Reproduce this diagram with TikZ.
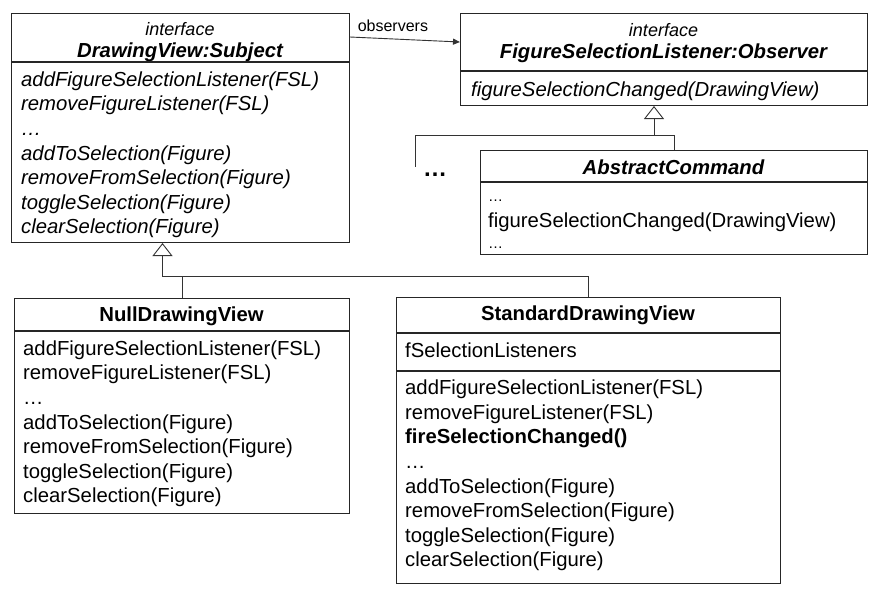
\documentclass[tikz,border=0pt]{standalone}
\usepackage{fontspec}
\setmainfont{Liberation Sans}
\usetikzlibrary{arrows.meta,calc,positioning}
\newcommand\opsfont{\fontsize{20.3}{24.6}\selectfont}
\newcommand\opsstrut{\rule{0pt}{15pt}}

\begin{document}
\begin{tikzpicture}[x=1pt, y=-1pt,
  box/.style={draw=black!85, line width=1pt, inner sep=0pt, anchor=north west},
  divider/.style={draw=black!85, line width=1.3pt},
  title/.style={font=\opsfont\bfseries, anchor=base, inner sep=0pt},
  ititle/.style={title, font=\opsfont\bfseries\itshape},
  stereo/.style={font=\fontsize{18}{20}\selectfont\itshape, anchor=base, inner sep=0pt},
  ops/.style={font=\opsfont, align=left, anchor=north west, inner sep=0pt},
  iops/.style={ops, font=\opsfont\itshape},
  link/.style={draw=black!80, line width=0.9pt},
  inherit/.style={link, -{Triangle[open, length=13pt, width=20pt]}}]

\useasboundingbox (0,0) rectangle (882,598);

% Subject interface
\node[box, minimum width=338pt, minimum height=229pt] (dv) at (11,13) {};
\node[stereo] (dvst) at (180,35) {interface};
\node[ititle] (dvname) at (180,57.5) {DrawingView:Subject};
\draw[divider] (dv.west |- 0,62) -- (dv.east |- 0,62);
\node[iops] (dvops) at (21,71) {\opsstrut addFigureSelectionListener(FSL)\\
  removeFigureListener(FSL)\\ \dots\\ addToSelection(Figure)\\
  removeFromSelection(Figure)\\ toggleSelection(Figure)\\ clearSelection(Figure)};

% Observer interface
\node[box, minimum width=407pt, minimum height=92pt] (fsl) at (460,13) {};
\node[stereo] (fslst) at (663.5,36) {interface};
\node[ititle] (fslname) at (663.5,58.5) {FigureSelectionListener:Observer};
\draw[divider] (fsl.west |- 0,71) -- (fsl.east |- 0,71);
\node[iops] (fslops) at (471,81.5) {\opsstrut figureSelectionChanged(DrawingView)};

% Concrete observer
\node[box, minimum width=387pt, minimum height=104pt] (ac) at (480,150) {};
\node[ititle] (acname) at (673.5,174) {AbstractCommand};
\draw[divider] (ac.west |- 0,182) -- (ac.east |- 0,182);
\node[ops] (acops) at (488,186) {\opsstrut{\fontsize{15}{16}\selectfont\dots}\\[1.9pt]
  figureSelectionChanged(DrawingView)\\[-4pt]{\fontsize{15}{16}\selectfont\dots}};
\node[font=\fontsize{24}{26}\selectfont\bfseries, anchor=base, inner sep=0pt] (more) at (435,176) {\dots};

% Concrete subjects
\node[box, minimum width=335pt, minimum height=215pt] (ndv) at (14,298) {};
\node[title] (ndvname) at (181.5,321) {NullDrawingView};
\draw[divider] (ndv.west |- 0,331) -- (ndv.east |- 0,331);
\node[ops] (ndvops) at (23,340) {\opsstrut addFigureSelectionListener(FSL)\\
  removeFigureListener(FSL)\\ \dots\\ addToSelection(Figure)\\
  removeFromSelection(Figure)\\ toggleSelection(Figure)\\ clearSelection(Figure)};

\node[box, minimum width=384pt, minimum height=286pt] (sdv) at (396,297) {};
\node[title] (sdvname) at (588,320) {StandardDrawingView};
\draw[divider] (sdv.west |- 0,333) -- (sdv.east |- 0,333);
\node[ops, anchor=base west] (sdvattr) at (405,357) {fSelectionListeners};
\draw[divider] (sdv.west |- 0,371) -- (sdv.east |- 0,371);
\node[ops] (sdvops) at (405,379.5) {\opsstrut addFigureSelectionListener(FSL)\\
  removeFigureListener(FSL)\\ \textbf{fireSelectionChanged()}\\ \dots\\
  addToSelection(Figure)\\ removeFromSelection(Figure)\\
  toggleSelection(Figure)\\ clearSelection(Figure)};

% Association
\draw[link, -{Triangle[length=7pt, width=6pt]}] ([yshift=-24pt]dv.north east)
  -- node[pos=0.39, above=6.5pt, font=\fontsize{16}{18}\selectfont, inner sep=0pt] (obslabel) {observers}
  ([yshift=-29pt]fsl.north west);

% Realisations
\coordinate (fsltip) at ([xshift=-10pt]fsl.south);
\coordinate (others) at (415,167);
\draw[link] (ac.north) -- ++(0,-15) -| (others);
\draw[inherit] ($(ac.north)+(0,-15)$) -| (fsltip);

\coordinate (dvtip) at ([xshift=-18pt]dv.south);
\draw[link] (ndv.north) -- ++(0,-22) -| (sdv.north);
\draw[inherit] ($(ndv.north)+(0,-22)$) -| (dvtip);
\end{tikzpicture}
\end{document}
